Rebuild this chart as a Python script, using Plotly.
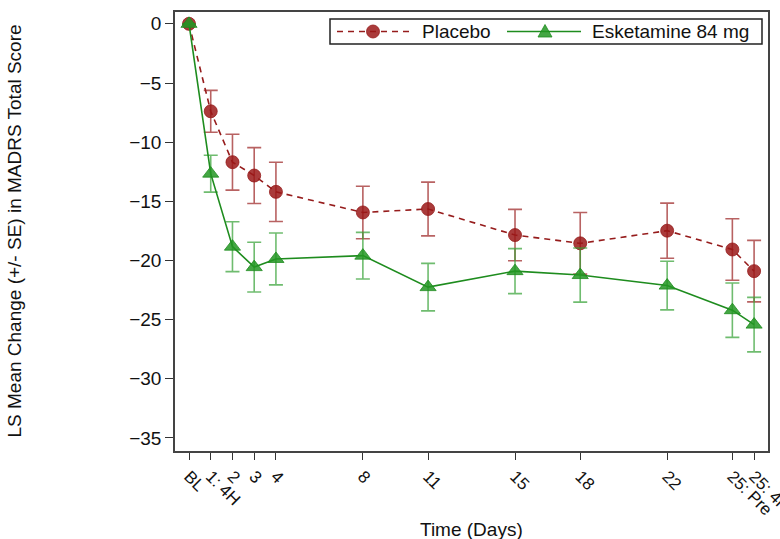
import plotly.graph_objects as go

# Visit schedule (days from baseline) and the tick text for each visit
days = [0, 1, 2, 3, 4, 8, 11, 15, 18, 22, 25, 26]
day_labels = ["BL", "1: 4H", "2", "3", "4", "8", "11", "15", "18", "22", "25: Pre", "25: 4H"]

# LS mean change from baseline in MADRS total score, with standard errors
placebo_mean = [0, -7.39, -11.69, -12.82, -14.2, -15.94, -15.65, -17.85, -18.55, -17.48, -19.07, -20.9]
placebo_se = [0, 1.77, 2.36, 2.36, 2.5, 2.22, 2.27, 2.17, 2.6, 2.33, 2.6, 2.6]
esk_mean = [0, -12.66, -18.83, -20.56, -19.87, -19.59, -22.25, -20.9, -21.23, -22.12, -24.2, -25.42]
esk_se = [0, 1.56, 2.11, 2.1, 2.19, 1.97, 2.01, 1.9, 2.29, 2.05, 2.3, 2.3]

FONT = "Liberation Sans, Arial, sans-serif"
RED_LINE = "rgb(150,28,28)"
RED_MARK = "rgba(155,25,25,0.85)"
RED_ERR = "rgba(160,45,45,0.75)"
GRN_LINE = "rgb(30,140,30)"
GRN_MARK = "rgba(35,150,35,0.85)"
GRN_ERR = "rgba(50,160,50,0.7)"
DASH = "6px,5px"

W, H = 780, 539
ML, MR, MT, MB = 175, 12, 12, 88
PW, PH = W - ML - MR, H - MT - MB


def px_x(p):
    return (p - ML) / PW


def px_y(p):
    return 1 - (p - MT) / PH


fig = go.Figure()

fig.add_trace(go.Scatter(
    x=days, y=placebo_mean, name="Placebo", mode="lines+markers",
    line=dict(color=RED_LINE, width=1.6, dash=DASH),
    marker=dict(symbol="circle", size=13, color=RED_MARK,
                line=dict(color=RED_LINE, width=0.8)),
    error_y=dict(type="data", array=placebo_se, symmetric=True,
                 color=RED_ERR, thickness=1.6, width=7),
))

fig.add_trace(go.Scatter(
    x=days, y=esk_mean, name="Esketamine 84 mg", mode="lines+markers",
    line=dict(color=GRN_LINE, width=1.6),
    marker=dict(symbol="triangle-up", size=14, color=GRN_MARK,
                line=dict(color=GRN_LINE, width=0.8)),
    error_y=dict(type="data", array=esk_se, symmetric=True,
                 color=GRN_ERR, thickness=1.6, width=7),
))

axis_common = dict(
    showline=True, linecolor="#444", linewidth=1.6, mirror=True,
    ticks="outside", tickwidth=1.4, tickcolor="#333",
    showgrid=False, zeroline=False, automargin=False,
)

fig.update_xaxes(
    range=[-0.644, 26.64], tickmode="array", tickvals=days, ticktext=day_labels,
    tickangle=45, ticklabeloverflow="allow", ticklen=7,
    tickfont=dict(family=FONT, size=17, color="#111"), **axis_common,
)
fig.update_yaxes(
    range=[-36.1, 1.0], tickmode="array", tickvals=list(range(0, -36, -5)),
    ticklen=8, tickfont=dict(family=FONT, size=19, color="#111"), **axis_common,
)

fig.add_annotation(
    text="LS Mean Change (+/- SE) in MADRS Total Score",
    xref="paper", yref="paper", x=-0.2715, y=0.5, xanchor="center", yanchor="middle",
    textangle=-90, showarrow=False, font=dict(family=FONT, size=19, color="#111"),
)
fig.add_annotation(
    text="Time (Days)",
    xref="paper", yref="paper", x=0.5, y=px_y(529.5), xanchor="center", yanchor="middle",
    showarrow=False, font=dict(family=FONT, size=19, color="#111"),
)

# Legend box drawn inside the top-right corner of the plot
leg_y = px_y(31.5)
shapes = [
    dict(type="rect", xref="paper", yref="paper",
         x0=px_x(330), x1=px_x(762), y0=px_y(44), y1=px_y(19),
         line=dict(color="#222", width=1.5), fillcolor="white", layer="above"),
    dict(type="line", xref="paper", yref="paper",
         x0=px_x(337), x1=px_x(410), y0=leg_y, y1=leg_y,
         line=dict(color=RED_LINE, width=1.6, dash=DASH), layer="above"),
    dict(type="circle", xref="paper", yref="paper", xsizemode="pixel", ysizemode="pixel",
         xanchor=px_x(373), yanchor=leg_y, x0=-6.5, x1=6.5, y0=-6.5, y1=6.5,
         fillcolor=RED_MARK, line=dict(color=RED_LINE, width=0.8), layer="above"),
    dict(type="line", xref="paper", yref="paper",
         x0=px_x(507), x1=px_x(581), y0=leg_y, y1=leg_y,
         line=dict(color=GRN_LINE, width=1.6), layer="above"),
    dict(type="path", xref="paper", yref="paper", xsizemode="pixel", ysizemode="pixel",
         xanchor=px_x(545), yanchor=leg_y, path="M-7,-5.5 L7,-5.5 L0,7 Z",
         fillcolor=GRN_MARK, line=dict(color=GRN_LINE, width=0.8), layer="above"),
]
for label, left in (("Placebo", 420), ("Esketamine 84 mg", 590)):
    fig.add_annotation(
        text=label, xref="paper", yref="paper", x=px_x(left), y=leg_y,
        xanchor="left", yanchor="middle", showarrow=False,
        font=dict(family=FONT, size=19, color="#111"),
    )

fig.update_layout(
    width=W, height=H,
    margin=dict(l=ML, r=MR, t=MT, b=MB, autoexpand=False),
    paper_bgcolor="white", plot_bgcolor="white",
    font=dict(family=FONT, size=19, color="#111"),
    shapes=shapes,
    showlegend=False,
)

fig.write_html("out.html")
